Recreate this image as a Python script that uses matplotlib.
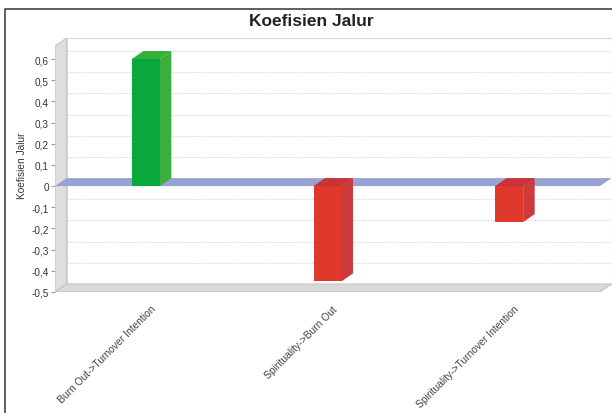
import matplotlib
matplotlib.use('Agg')
import matplotlib.pyplot as plt
from matplotlib.patches import Polygon
from matplotlib.lines import Line2D
import matplotlib.transforms as mtransforms

plt.rcParams['font.family'] = ['Liberation Sans', 'DejaVu Sans']

categories = ["Burn Out->Turnover Intention", "Spirituality->Burn Out",
              "Spirituality->Turnover Intention"]
values = [0.60, -0.45, -0.17]
ytick_values = [0.6, 0.5, 0.4, 0.3, 0.2, 0.1, 0.0, -0.1, -0.2, -0.3, -0.4, -0.5]
ytick_labels = ["0,6", "0,5", "0,4", "0,3", "0,2", "0,1", "0", "-0,1", "-0,2",
                "-0,3", "-0,4", "-0,5"]
title = "Koefisien Jalur"
ylabel = "Koefisien Jalur"

W, H = 612, 414
fig = plt.figure(figsize=(W / 100, H / 100), dpi=100)
fig.patch.set_facecolor('white')

# geometry in pixels
px_per_x = 545 / 3.0
px_per_y = 211.8
dx_px, dy_px = 11.5, 8.0
x0 = 55
y_bot, y_top = 293, 39
width_px = 545 + dx_px
ax = fig.add_axes([x0 / W, (H - y_bot) / H, width_px / W, (y_bot - y_top) / H])
xmin = -0.5
front_right = 2.5
dx = dx_px / px_per_x
dy = dy_px / px_per_y
xmax = front_right + dx
ymin = -0.5
ymax = ymin + (y_bot - y_top) / px_per_y
front_top = ymax - dy
ax.set_xlim(xmin, xmax)
ax.set_ylim(ymin, ymax)
for s in ax.spines.values():
    s.set_visible(False)
ax.patch.set_alpha(0)

# back wall
ax.add_patch(Polygon([(xmin + dx, ymin + dy), (xmax, ymin + dy), (xmax, ymax), (xmin + dx, ymax)],
                     closed=True, facecolor='white', edgecolor='#d8d8d8', lw=0.8, zorder=0))
# grid lines on back wall
for v in ytick_values:
    if v in (0.0, -0.5):
        continue
    ax.plot([xmin + dx, xmax], [v + dy, v + dy], color='#d6d6d6', lw=0.7,
            linestyle=(0, (1.5, 1.5)), zorder=1)
# left wall
ax.add_patch(Polygon([(xmin, ymin), (xmin, front_top), (xmin + dx, ymax), (xmin + dx, ymin + dy)],
                     closed=True, facecolor='#dedede', edgecolor='#c8c8c8', lw=0.8, zorder=2))
# floor
ax.add_patch(Polygon([(xmin, ymin), (front_right, ymin), (xmax, ymin + dy), (xmin + dx, ymin + dy)],
                     closed=True, facecolor='#d9d9d9', edgecolor='#c4c4c4', lw=0.8, zorder=2))
# zero band
ax.add_patch(Polygon([(xmin, 0), (front_right, 0), (xmax, dy), (xmin + dx, dy)],
                     closed=True, facecolor='#99a3d3', edgecolor='none', zorder=3))

# bars
xs = list(range(len(categories)))
bw = 28 / px_per_x
front_cols = ['#09a83a' if v >= 0 else '#e0392c' for v in values]
side_cols = ['#3aae3e' if v >= 0 else '#cc3a3a' for v in values]
top_cols = ['#35b03c' if v >= 0 else '#c93238' for v in values]
bars = ax.bar(xs, values, width=bw, color=front_cols, edgecolor='none', zorder=5)
for b, sc, tc in zip(bars, side_cols, top_cols):
    xl = b.get_x()
    xr = xl + b.get_width()
    y_a = b.get_y()
    y_b = y_a + b.get_height()
    top_y = max(y_a, y_b)
    bot_y = min(y_a, y_b)
    ax.add_patch(Polygon([(xr, bot_y), (xr, top_y), (xr + dx, top_y + dy), (xr + dx, bot_y + dy)],
                         closed=True, facecolor=sc, edgecolor='none', zorder=5))
    ax.add_patch(Polygon([(xl, top_y), (xr, top_y), (xr + dx, top_y + dy), (xl + dx, top_y + dy)],
                         closed=True, facecolor=tc, edgecolor='none', zorder=5))

# y axis ticks
ax.set_yticks(ytick_values)
ax.set_yticklabels(ytick_labels)
ax.tick_params(axis='y', length=3, width=0.8, color='#999999', labelsize=7.2,
               labelcolor='#333333', pad=1.5)
ax.set_xticks([])

# category labels
off = mtransforms.offset_copy(ax.transData, fig=fig, x=8, y=-15, units='dots')
for x, cat in zip(xs, categories):
    ax.text(x, ymin, cat, transform=off, rotation=45, rotation_mode='anchor',
            ha='right', va='center', fontsize=7.4, color='#444444')

# y label
fig.text(22 / W, 1 - 166 / H, ylabel, rotation=90, fontsize=7.3, color='#333333',
         ha='center', va='center')
# title
fig.text(311 / W, 1 - 22 / H, title, fontsize=12.5, fontweight='bold', color='#222222',
         ha='center', va='center')

# outer border (top and left)
fig.add_artist(Line2D([5 / W, 5 / W, 1.0], [0.0, 1 - 10 / H, 1 - 10 / H],
                      transform=fig.transFigure, color='#444444', lw=1.2))

fig.savefig('out.png', dpi=100)
